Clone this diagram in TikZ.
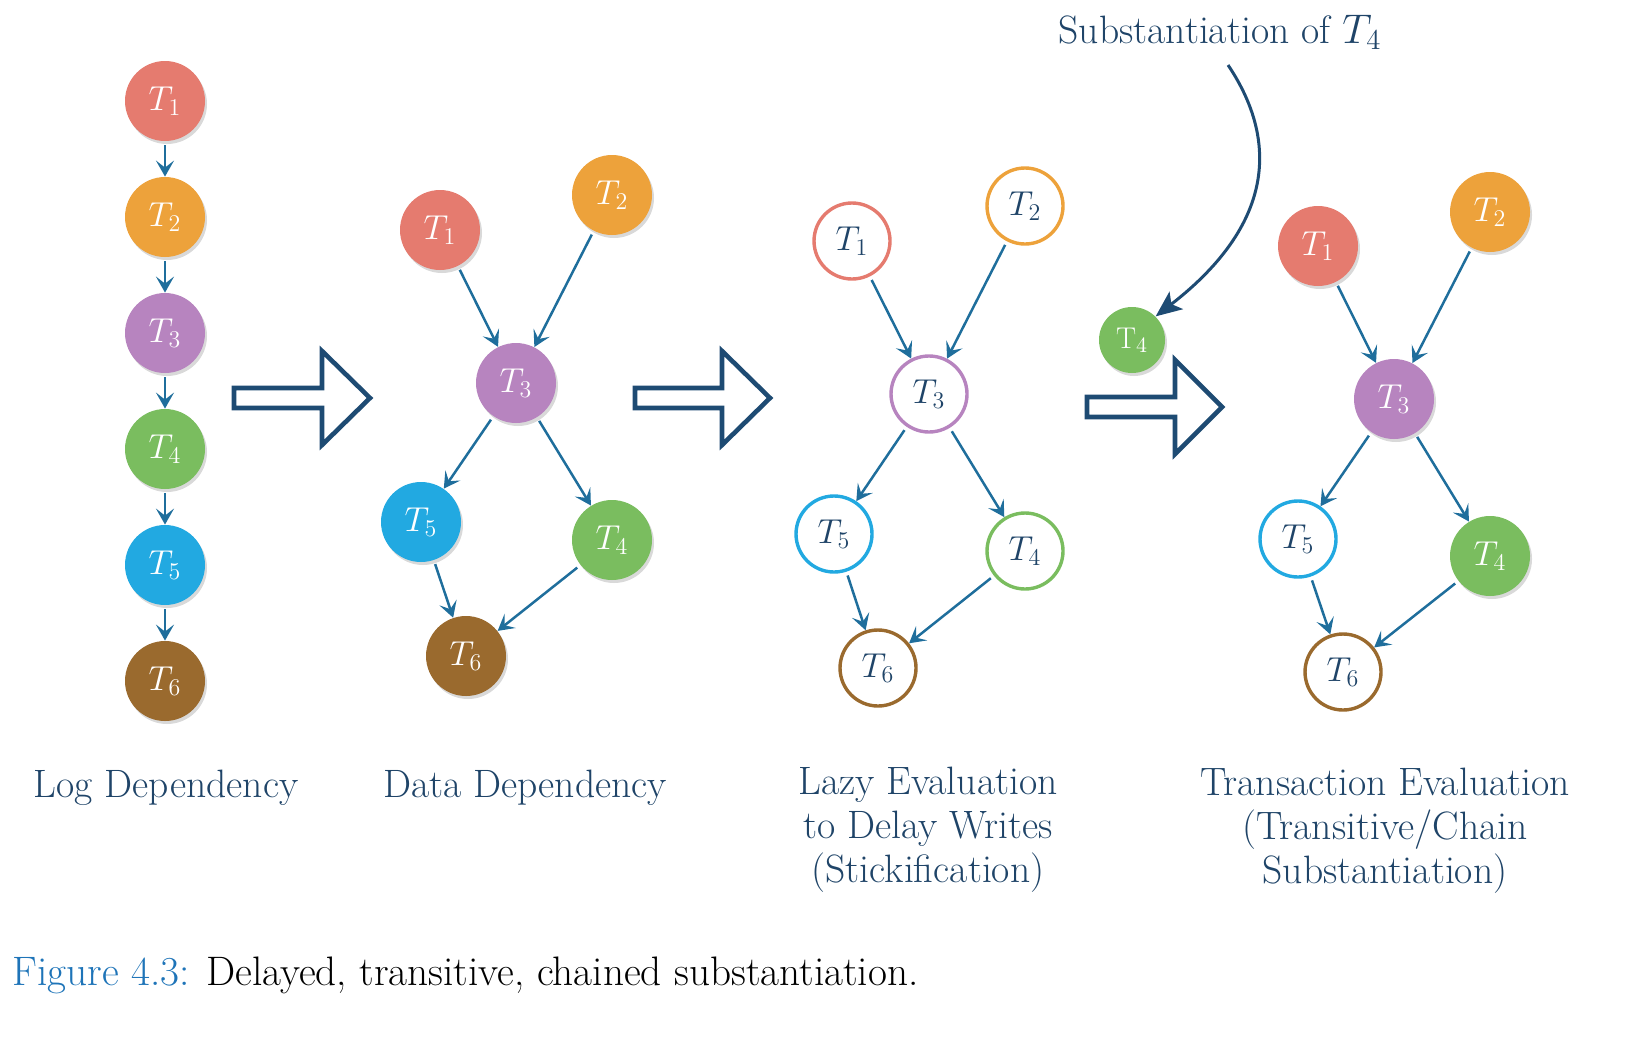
\documentclass[tikz,border=0pt]{standalone}
\usetikzlibrary{arrows.meta,shadows}
\definecolor{cred}{HTML}{E57B6F}
\definecolor{corange}{HTML}{EDA23B}
\definecolor{cpurple}{HTML}{B784BF}
\definecolor{cgreen}{HTML}{7ABD5F}
\definecolor{cblue}{HTML}{22A9E1}
\definecolor{cbrown}{HTML}{9A6A2E}
\definecolor{arrblue}{HTML}{1F6E9C}
\definecolor{navy}{HTML}{1E4B73}
\definecolor{txtblue}{HTML}{1F4468}
\definecolor{capblue}{HTML}{1E74B8}
\begin{document}
\begin{tikzpicture}[x=0.5pt,y=-0.5pt,
  filled/.style={circle, minimum size=40pt, inner sep=0pt, fill=#1, text=white,
    drop shadow={opacity=0.3,shadow xshift=1pt,shadow yshift=-1.5pt},
    font=\fontsize{18}{21}\selectfont},
  hollow/.style={circle, minimum size=38pt, inner sep=0pt, draw=#1, line width=1.7pt,
    fill=white, text=txtblue, font=\fontsize{18}{21}\selectfont,
    postaction={draw=#1, line width=0.6pt, opacity=0.5, shift={(1pt,0.5pt)}}},
  dep/.style={draw=arrblue, line width=1.25pt, shorten <=2pt,
    -{Stealth[length=8pt,width=9pt,inset=3.5pt]}},
  bigarrow/.style={draw=navy, line width=2.3pt, line join=miter, fill=white},
  lbl/.style={text=txtblue, align=center, font=\fontsize{19.8}{23}\selectfont}
]
\useasboundingbox (0,0) rectangle (1636,1049);

% Column 1: log dependency
\node[filled=cred]    (a1) at (165,101) {$T_1$};
\node[filled=corange] (a2) at (165,217) {$T_2$};
\node[filled=cpurple] (a3) at (165,333) {$T_3$};
\node[filled=cgreen]  (a4) at (165,449) {$T_4$};
\node[filled=cblue]   (a5) at (165,565) {$T_5$};
\node[filled=cbrown]  (a6) at (165,681) {$T_6$};
\draw[dep] (a1) -- (a2);
\draw[dep] (a2) -- (a3);
\draw[dep] (a3) -- (a4);
\draw[dep] (a4) -- (a5);
\draw[dep] (a5) -- (a6);
\node[lbl] (la) at (166,788) {Log Dependency};

% Column 2: data dependency
\node[filled=cred]    (b1) at (440,230) {$T_1$};
\node[filled=corange] (b2) at (612,195) {$T_2$};
\node[filled=cpurple] (b3) at (516,383) {$T_3$};
\node[filled=cblue]   (b5) at (421,522) {$T_5$};
\node[filled=cgreen]  (b4) at (612,540) {$T_4$};
\node[filled=cbrown]  (b6) at (466,656) {$T_6$};
\draw[dep] (b1) -- (b3);
\draw[dep] (b2) -- (b3);
\draw[dep] (b3) -- (b5);
\draw[dep] (b3) -- (b4);
\draw[dep] (b5) -- (b6);
\draw[dep] (b4) -- (b6);
\node[lbl] (lb) at (525,788) {Data Dependency};

% Column 3: lazy evaluation
\node[hollow=cred]    (c1) at (852,241) {$T_1$};
\node[hollow=corange] (c2) at (1025,206) {$T_2$};
\node[hollow=cpurple] (c3) at (929,394) {$T_3$};
\node[hollow=cblue]   (c5) at (834,534) {$T_5$};
\node[hollow=cgreen]  (c4) at (1025,551) {$T_4$};
\node[hollow=cbrown]  (c6) at (878,668) {$T_6$};
\draw[dep] (c1) -- (c3);
\draw[dep] (c2) -- (c3);
\draw[dep] (c3) -- (c5);
\draw[dep] (c3) -- (c4);
\draw[dep] (c5) -- (c6);
\draw[dep] (c4) -- (c6);
\node[lbl] (lc) at (928,830) {Lazy Evaluation\\[-1pt]to Delay Writes\\[-1pt](Stickification)};

% Column 4: transaction evaluation
\node[filled=cred]    (d1) at (1318,246) {$T_1$};
\node[filled=corange] (d2) at (1490,212) {$T_2$};
\node[filled=cpurple] (d3) at (1394,399) {$T_3$};
\node[hollow=cblue]   (d5) at (1298,539) {$T_5$};
\node[filled=cgreen]  (d4) at (1490,556) {$T_4$};
\node[hollow=cbrown]  (d6) at (1343,672) {$T_6$};
\draw[dep] (d1) -- (d3);
\draw[dep] (d2) -- (d3);
\draw[dep] (d3) -- (d5);
\draw[dep] (d3) -- (d4);
\draw[dep] (d5) -- (d6);
\draw[dep] (d4) -- (d6);
\node[lbl] (ld) at (1385,831) {Transaction Evaluation\\[-1pt](Transitive/Chain\\[-1pt]Substantiation)};

% substantiated T4
\node[filled=cgreen, minimum size=33pt, font=\fontsize{15}{18}\selectfont] (e4) at (1132,340) {T$_4$};
\node[lbl] (subst) at (1220,32) {Substantiation of $T_4$};
\coordinate (cs) at (1228,65);
\draw[navy, line width=1.5pt, -{Stealth[length=13pt,width=11pt,inset=3pt]}]
  (cs) .. controls (1275,135) and (1280,220) .. (e4.north east);

% big hollow arrows
\draw[bigarrow] (234,388) -- (322,388) -- (322,351) -- (370,398) -- (322,445) -- (322,408) -- (234,408) -- cycle;
\draw[bigarrow] (635,388) -- (722,388) -- (722,351) -- (770,398) -- (722,445) -- (722,408) -- (635,408) -- cycle;
\draw[bigarrow] (1087,397) -- (1175,397) -- (1175,360) -- (1222,407) -- (1175,454) -- (1175,417) -- (1087,417) -- cycle;

% caption
\node[anchor=west, font=\fontsize{20.6}{24}\selectfont, inner sep=0pt] (cap) at (12,975)
  {\textcolor{capblue}{Figure 4.3:} Delayed, transitive, chained substantiation.};
\end{tikzpicture}
\end{document}
